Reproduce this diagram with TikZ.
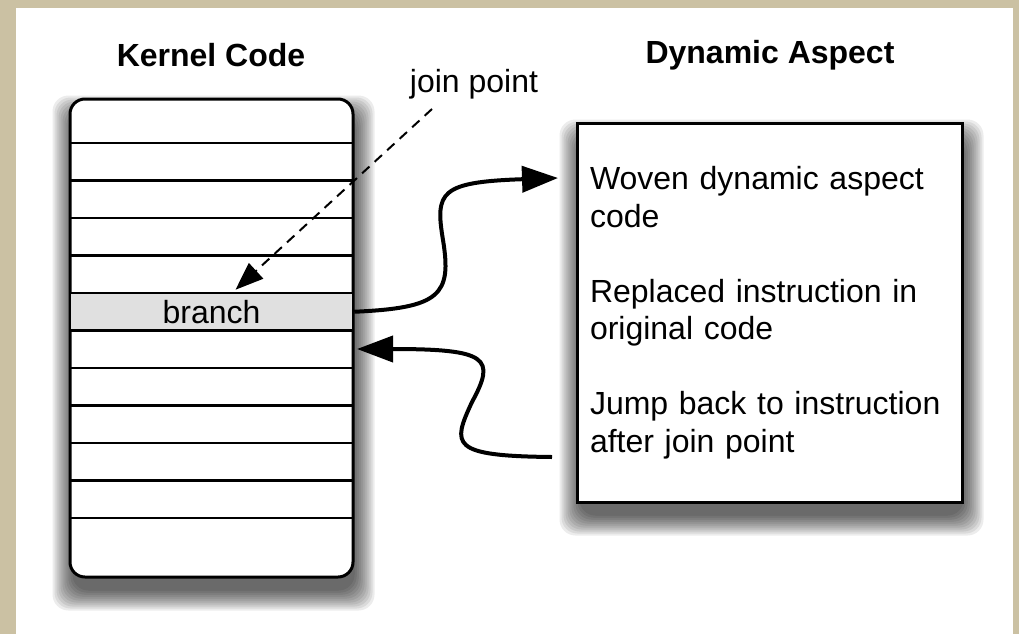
\documentclass[tikz,border=0pt]{standalone}
\usepackage{fontspec}
\setmainfont{Liberation Sans}
\usepackage{tikz}
\usetikzlibrary{arrows.meta, positioning, calc, backgrounds}
\definecolor{pagebeige}{RGB}{203,193,163}
\definecolor{branchgray}{RGB}{224,224,224}

\begin{document}
\begin{tikzpicture}[
    x=1pt, y=-1pt,
    title/.style={font=\fontsize{32}{38}\selectfont\bfseries},
    plain/.style={font=\fontsize{32}{37.5}\selectfont},
    shadowlayer/.style={fill=black, opacity=0.075, rounded corners=16pt},
    codebox/.style={draw=black, line width=3pt, fill=white, rounded corners=15pt,
                    minimum width=283pt, minimum height=478pt},
    branchrow/.style={draw=black, line width=2.5pt, fill=branchgray, inner sep=0pt,
                      minimum width=283pt, minimum height=37.5pt, font=\fontsize{32}{38}\selectfont},
    aspectbox/.style={draw=black, line width=3pt, fill=white, inner xsep=13pt,
                      minimum width=385pt, minimum height=379pt, text width=359pt, align=left,
                      font=\fontsize{32}{37.5}\selectfont},
    jump/.style={line width=4pt, -{Triangle[length=36pt, width=26pt]}},
    hint/.style={line width=2pt, dash pattern=on 10pt off 7pt, -{Triangle[length=28pt, width=21pt]}}
]
    \useasboundingbox (0,0) rectangle (1019,634);

    % Titles
    \node[title] (kerneltitle) at (211,55) {Kernel Code};
    \node[title] (aspecttitle) at (770,55) {Dynamic Aspect};
    \node[plain] (joinpoint) at (474,84) {join point};

    % Kernel code
    \node[codebox] (kernel) at (211.5,338) {};
    \node[branchrow] (branch) at (211.5,311.75) {branch};
    \foreach \y in {143,180.5,218,255.5,368,405.5,443,480.5,518}
        \draw[line width=2.5pt] (70,\y) -- (353,\y);

    % Dynamic aspect
    \node[aspectbox] (aspect) at (769.5,312.5) {Woven dynamic aspect\\code\\[37.5pt]Replaced instruction in\\original code\\[37.5pt]Jump back to instruction\\after join point};

    % Connectors
    \coordinate (jointail) at (432,109);
    \coordinate (jumpin) at (558,178);
    \coordinate (backout) at (552,457);
    \coordinate (backin) at (357,349);
    \draw[hint] (jointail) -- ($(branch.north)+(24,-2)$);
    \draw[jump] (branch.east) .. controls (440,308) and (452,295) .. (443,240)
                .. controls (435,192) and (440,182) .. (jumpin);
    \draw[jump] (backout) .. controls (450,456) and (452,445) .. (472,402)
                .. controls (496,358) and (488,349) .. (backin);

    % Page and shadows
    \begin{scope}[on background layer]
        \fill[pagebeige] (0,0) rectangle (1019,634);
        \fill[white] (16,8) rectangle (1013,634);
        \foreach \shaded in {kernel, aspect}
            \foreach \r in {0,2,...,20}
                \fill[shadowlayer] ($(\shaded.north west)+(4-\r,18-\r)$) rectangle ($(\shaded.south east)+(\r,12+\r)$);
    \end{scope}
\end{tikzpicture}
\end{document}
